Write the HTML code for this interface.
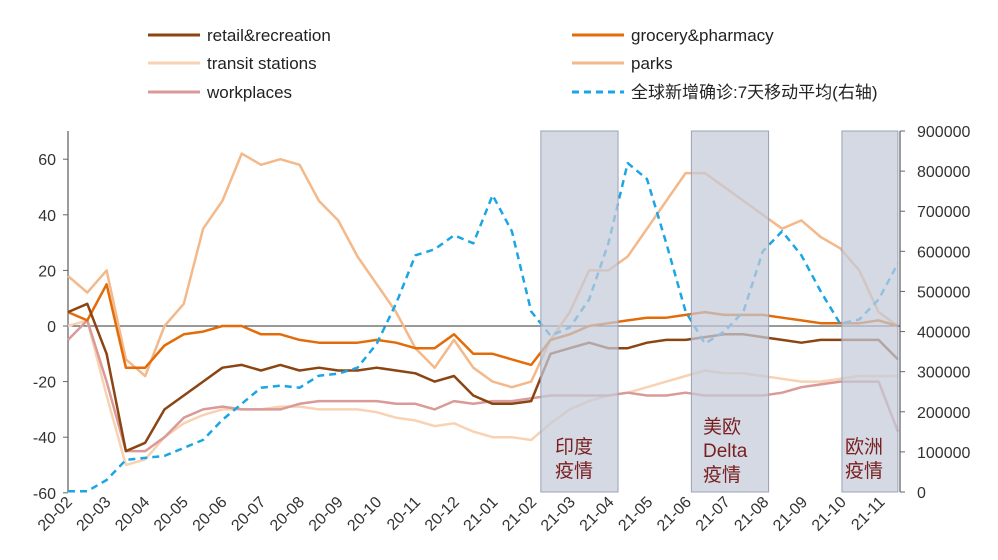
<!DOCTYPE html>
<html><head><meta charset="utf-8"><style>
body{margin:0;background:#fff;}
svg{display:block;font-family:"Liberation Sans","Noto Sans CJK SC",sans-serif;}
</style></head><body>
<svg id="c" width="998" height="560"></svg>
<script>
const categories=["20-02","20-03","20-04","20-05","20-06","20-07","20-08","20-09","20-10","20-11","20-12","21-01","21-02","21-03","21-04","21-05","21-06","21-07","21-08","21-09","21-10","21-11"];
const retail=[5,8,-10,-45,-42,-30,-25,-20,-15,-14,-16,-14,-16,-15,-16,-16,-15,-16,-17,-20,-18,-25,-28,-28,-27,-10,-8,-6,-8,-8,-6,-5,-5,-4,-3,-3,-4,-5,-6,-5,-5,-5,-5,-12];
const grocery=[5,2,15,-15,-15,-7,-3,-2,0,0,-3,-3,-5,-6,-6,-6,-5,-6,-8,-8,-3,-10,-10,-12,-14,-5,-3,0,1,2,3,3,4,5,4,4,4,3,2,1,1,1,2,0];
const transit=[0,2,-25,-50,-48,-40,-35,-32,-30,-30,-30,-29,-29,-30,-30,-30,-31,-33,-34,-36,-35,-38,-40,-40,-41,-35,-30,-27,-25,-24,-22,-20,-18,-16,-17,-17,-18,-19,-20,-20,-19,-18,-18,-18];
const parks=[18,12,20,-12,-18,0,8,35,45,62,58,60,58,45,38,25,15,5,-8,-15,-5,-15,-20,-22,-20,-5,5,20,20,25,35,45,55,55,50,45,40,35,38,32,28,20,5,0];
const workplaces=[-5,2,-20,-45,-45,-40,-33,-30,-29,-30,-30,-30,-28,-27,-27,-27,-27,-28,-28,-30,-27,-28,-27,-27,-26,-25,-25,-25,-25,-24,-25,-25,-24,-25,-25,-25,-25,-24,-22,-21,-20,-20,-20,-38];
const cases=[2000,2000,30000,80000,85000,90000,110000,130000,180000,220000,260000,265000,260000,290000,295000,310000,370000,470000,590000,605000,640000,620000,740000,650000,450000,390000,410000,480000,620000,820000,780000,620000,450000,370000,400000,450000,600000,650000,590000,500000,420000,430000,480000,570000];
const leftTicks=[-60,-40,-20,0,20,40,60];
const rightTicks=[0,100000,200000,300000,400000,500000,600000,700000,800000,900000];
const bands=[[24.5,28.5],[32.3,36.3],[40.1,43]];
const X0=68,X1=900,Ytop=131,Ybot=492;
const xs=i=>X0+i*19.3;
const yl=v=>326-v*2.78;
const yr=v=>Ybot-v/900000*(Ybot-Ytop);
const svg=document.getElementById('c');const NS='http://www.w3.org/2000/svg';
function mk(t,a,p){const e=document.createElementNS(NS,t);for(const k in a)e.setAttribute(k,a[k]);(p||svg).appendChild(e);return e;}
// axes
const ax=mk('line',{x1:X0,y1:Ytop,x2:X0,y2:Ybot,stroke:'#666','stroke-width':1.3});

const ax2=mk('line',{x1:X1,y1:Ytop,x2:X1,y2:Ybot,stroke:'#666','stroke-width':1.3});

leftTicks.forEach(v=>{mk('line',{x1:X0-5,y1:yl(v),x2:X0,y2:yl(v),stroke:'#666'});
const t=mk('text',{x:X0-12,y:yl(v)+6,'font-size':16,'text-anchor':'end',fill:'#333'});t.textContent=v;
});
rightTicks.forEach(v=>{mk('line',{x1:X1,y1:yr(v),x2:X1+5,y2:yr(v),stroke:'#666'});
const t=mk('text',{x:X1+17,y:yr(v)+6,'font-size':16,fill:'#333'});t.textContent=v;
});
categories.forEach((c,i)=>{const x=73+i*38.7;const t=mk('text',{x:x,y:503,'font-size':16,'text-anchor':'end',fill:'#333',transform:`rotate(-45 ${x} 503)`});t.textContent=c;
});
const zl=mk('line',{x1:X0,y1:yl(0),x2:X1,y2:yl(0),stroke:'#333','stroke-width':1});

function series(arr,f,col,w,name,dash){const d=arr.map((v,i)=>(i?'L':'M')+xs(i).toFixed(1)+','+f(v).toFixed(1)).join('');
const p=mk('path',{d:d,fill:'none',stroke:col,'stroke-width':w,'stroke-linejoin':'round'});if(dash)p.setAttribute('stroke-dasharray',dash);
}
series(parks,yl,'#f4b98a',2.5,'parks-line');
series(transit,yl,'#f8d2b3',2.5,'transit-line');
series(workplaces,yl,'#d99a98',2.5,'workplaces-line');
series(grocery,yl,'#e36c0a',2.5,'grocery-line');
series(retail,yl,'#8b4513',2.5,'retail-line');
series(cases,yr,'#1aa6e4',2.5,'cases-line','7,5');
bands.forEach((b,i)=>{const r=mk('rect',{x:xs(b[0]),y:Ytop,width:xs(b[1])-xs(b[0]),height:Ybot-Ytop,fill:'#c4cbda','fill-opacity':0.72,stroke:'#9aa2b8','stroke-width':1});

});
const bl=[[["印度","疫情"],555,453],[["美欧","Delta","疫情"],703,433],[["欧洲","疫情"],845,453]];
bl.forEach((b,i)=>{b[0].forEach((s,j)=>{const t=mk('text',{x:b[1],y:b[2]+j*24,'font-size':19,fill:'#7a1f1f'});t.textContent=s;

});});
const leg=[['retail&recreation','#8b4513',148,35,''],['grocery&pharmacy','#e36c0a',572,35,''],['transit stations','#f8d2b3',148,63,''],['parks','#f4b98a',572,63,''],['workplaces','#d99a98',148,92,''],['全球新增确诊:7天移动平均(右轴)','#1aa6e4',572,92,'7,5']];
leg.forEach(l=>{const g=mk('g',{});
const ln=mk('line',{x1:l[2],y1:l[3],x2:l[2]+52,y2:l[3],stroke:l[1],'stroke-width':3},g);if(l[4])ln.setAttribute('stroke-dasharray',l[4]);
const t=mk('text',{x:l[2]+59,y:l[3]+6,'font-size':17,fill:'#222'},g);t.textContent=l[0];});
</script>
</body></html>
